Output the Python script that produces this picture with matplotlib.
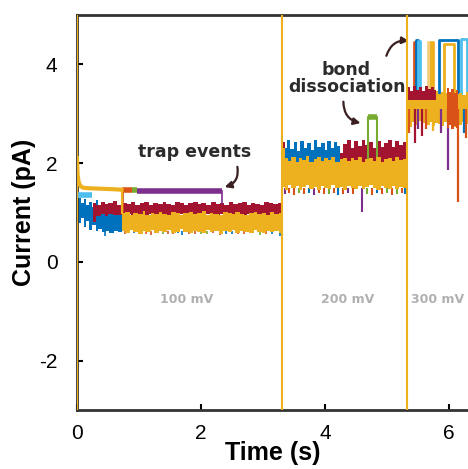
import matplotlib.pyplot as plt

plt.rcParams["axes.unicode_minus"] = False

# MATLAB-style trace colours
BLUE = "#0072BD"
ORANGE = "#D95319"
YELLOW = "#EDB120"
LYELLOW = "#F6CF7E"
PURPLE = "#7E2F8E"
GREEN = "#77AC30"
LBLUE = "#4DBEEE"
RED = "#A2142F"

# voltage steps (s)
steps = [0.0, 3.31, 5.32]
step_labels = ["100 mV", "200 mV", "300 mV"]
step_label_t = [1.77, 4.37, 5.82]

# ---- 100 mV ----
y_init_t = [0.0, 0.01, 0.03, 0.06, 0.1, 0.2, 0.4, 0.6, 0.72]
y_init_v = [2.1, 1.75, 1.6, 1.53, 1.5, 1.49, 1.48, 1.47, 1.46]

y1_t = [0.72, 0.77, 0.85, 0.9, 0.98, 1.06, 1.1, 1.19, 1.25, 1.33, 1.37, 1.46, 1.52,
        1.6, 1.67, 1.71, 1.8, 1.88, 1.93, 2.01, 2.08, 2.15, 2.2, 2.29, 2.35, 2.43,
        2.5, 2.55, 2.63, 2.7, 2.77, 2.85, 2.9, 2.98, 3.05, 3.12, 3.18, 3.26, 3.31]
y1_hi = [0.98, 1.01, 0.95, 0.99, 0.97, 1.02, 0.94, 0.99, 0.96, 1.0, 0.97, 0.95, 1.01,
         0.98, 0.94, 0.99, 1.0, 0.96, 0.98, 1.02, 0.95, 0.99, 0.97, 0.94, 1.0, 0.98,
         0.96, 1.01, 0.97, 0.95, 0.99, 1.0, 0.96, 0.98, 0.94, 1.0, 0.97, 0.99, 0.97]
y1_lo = [0.63, 0.59, 0.64, 0.61, 0.57, 0.63, 0.6, 0.65, 0.58, 0.62, 0.6, 0.64, 0.59,
         0.61, 0.66, 0.6, 0.58, 0.63, 0.61, 0.59, 0.64, 0.6, 0.62, 0.57, 0.63, 0.61,
         0.65, 0.59, 0.62, 0.6, 0.58, 0.64, 0.61, 0.59, 0.63, 0.6, 0.62, 0.58, 0.6]

b1_t = [0.02, 0.06, 0.11, 0.15, 0.2, 0.24, 0.3, 0.34, 0.41, 0.47, 0.52, 0.6, 0.66, 0.72]
b1_hi = [1.3, 1.2, 1.27, 1.15, 1.22, 1.12, 1.25, 1.1, 1.15, 1.08, 1.12, 1.1, 1.14, 1.1]
b1_lo = [0.78, 0.88, 0.7, 0.82, 0.65, 0.75, 0.62, 0.66, 0.6, 0.63, 0.59, 0.62, 0.6, 0.62]

r1_t = [0.26, 0.31, 0.38, 0.45, 0.5, 0.58, 0.64, 0.72, 0.8, 0.87, 0.93, 1.02, 1.08,
        1.16, 1.22, 1.3, 1.38, 1.43, 1.51, 1.58, 1.66, 1.72, 1.79, 1.87, 1.95, 2.0,
        2.09, 2.16, 2.24, 2.3, 2.38, 2.45, 2.52, 2.6, 2.66, 2.74, 2.81, 2.88, 2.95,
        3.02, 3.1, 3.16, 3.24, 3.31]
r1_hi = [1.2, 1.16, 1.22, 1.17, 1.19, 1.23, 1.15, 1.2, 1.18, 1.22, 1.16, 1.19, 1.21,
         1.15, 1.2, 1.17, 1.22, 1.18, 1.16, 1.21, 1.19, 1.15, 1.2, 1.22, 1.17, 1.19,
         1.16, 1.21, 1.18, 1.2, 1.15, 1.22, 1.17, 1.19, 1.21, 1.16, 1.2, 1.18, 1.15,
         1.21, 1.19, 1.17, 1.2, 1.18]
r1_lo = [0.8, 0.93, 0.96, 0.92, 0.97, 0.94, 0.95, 0.92, 0.96, 0.93, 0.97, 0.94, 0.92,
         0.96, 0.95, 0.93, 0.97, 0.92, 0.95, 0.94, 0.96, 0.93, 0.92, 0.97, 0.95, 0.93,
         0.96, 0.94, 0.92, 0.97, 0.95, 0.93, 0.96, 0.92, 0.94, 0.97, 0.95, 0.93, 0.96,
         0.92, 0.95, 0.94, 0.97, 0.93]

trap_t0 = [0.0, 0.72, 0.89, 0.97]
trap_t1 = [0.25, 0.89, 0.97, 2.34]
trap_v = [1.36, 1.45, 1.45, 1.43]
trap_c = [LBLUE, ORANGE, GREEN, PURPLE]

specks1_t = [0.45, 0.78, 0.92, 1.02, 1.12, 1.2, 1.3, 1.38, 1.47, 1.55, 1.63, 1.7,
             1.8, 1.9, 2.0, 2.1, 2.2, 2.3, 2.4, 2.5, 2.6, 2.7, 2.82, 2.95, 3.05, 3.15, 3.28]
specks1_v = [0.52, 0.56, 0.58, 0.57, 0.56, 0.55, 0.58, 0.57, 0.56, 0.56, 0.58, 0.55,
             0.57, 0.57, 0.56, 0.56, 0.58, 0.55, 0.57, 0.57, 0.56, 0.56, 0.58, 0.55, 0.57,
             0.57, 0.53]
specks1_c = [BLUE, ORANGE, BLUE, GREEN, ORANGE, ORANGE, GREEN, GREEN, ORANGE, ORANGE,
             BLUE, BLUE, ORANGE, ORANGE, GREEN, GREEN, ORANGE, ORANGE, BLUE, BLUE, ORANGE,
             ORANGE, GREEN, GREEN, ORANGE, BLUE, BLUE]

# ---- 200 mV ----
t2 = [3.31, 3.35, 3.41, 3.46, 3.53, 3.58, 3.63, 3.7, 3.75, 3.82, 3.87, 3.93, 3.99,
      4.05, 4.1, 4.17, 4.24, 4.29, 4.35, 4.42, 4.47, 4.53, 4.6, 4.65, 4.72, 4.78,
      4.83, 4.9, 4.96, 5.02, 5.08, 5.13, 5.2, 5.26, 5.32]
y2_hi = [2.3, 2.1, 2.05, 2.13, 2.02, 2.1, 2.07, 2.14, 2.03, 2.09, 2.12, 2.04, 2.1,
         2.06, 2.13, 2.02, 2.08, 2.11, 2.04, 2.1, 2.07, 2.13, 2.03, 2.09, 2.11, 2.05,
         2.12, 2.03, 2.08, 2.1, 2.04, 2.12, 2.06, 2.09, 2.07]
y2_lo = [1.52, 1.46, 1.55, 1.49, 1.53, 1.45, 1.51, 1.56, 1.48, 1.52, 1.46, 1.54, 1.5,
         1.47, 1.55, 1.49, 1.52, 1.46, 1.53, 1.5, 1.48, 1.54, 1.47, 1.51, 1.55, 1.49,
         1.46, 1.53, 1.5, 1.48, 1.54, 1.47, 1.52, 1.49, 1.5]
r2_hi = [2.42, 2.3, 2.2, 2.25, 2.2, 2.22, 2.2, 2.25, 2.2, 2.22, 2.2, 2.25, 2.2,
         2.22, 2.2, 2.25, 2.2, 2.38, 2.46, 2.3, 2.44, 2.34, 2.47, 2.36, 2.42, 2.3,
         2.45, 2.33, 2.41, 2.47, 2.32, 2.44, 2.36, 2.43, 2.38]
r2_lo = 1.95
b2_t = [3.35, 3.39, 3.44, 3.5, 3.55, 3.6, 3.66, 3.71, 3.77, 3.83, 3.88, 3.94, 4.0,
        4.04, 4.1, 4.15, 4.2, 4.24]
b2_hi = [2.3, 2.46, 2.28, 2.42, 2.25, 2.45, 2.3, 2.4, 2.27, 2.47, 2.32, 2.41, 2.26,
         2.44, 2.3, 2.43, 2.35, 2.38]
b2_lo = 2.0

specks2_t = [3.35, 3.42, 3.5, 3.58, 3.66, 3.74, 3.82, 3.9, 3.98, 4.06, 4.14, 4.22, 4.3,
             4.38, 4.46, 4.6, 4.68, 4.76, 4.84, 4.92, 5.0, 5.08, 5.16, 5.24, 5.3]
specks2_v = [1.38, 1.4, 1.35, 1.4, 1.37, 1.39, 1.36, 1.4, 1.38, 1.37, 1.39, 1.36, 1.38,
             1.4, 1.37, 1.0, 1.38, 1.36, 1.4, 1.37, 1.39, 1.36, 1.38, 1.4, 1.37]
specks2_c = [PURPLE, ORANGE, ORANGE, GREEN, ORANGE, BLUE, PURPLE, ORANGE, ORANGE, GREEN,
             ORANGE, BLUE, ORANGE, PURPLE, ORANGE, PURPLE, GREEN, ORANGE, BLUE, ORANGE,
             GREEN, ORANGE, GREEN, ORANGE, BLUE]

# bond dissociation event (green)
diss_t = [4.69, 4.69, 4.84, 4.84]
diss_v = [2.1, 2.94, 2.94, 2.1]

# ---- 300 mV ----
t3 = [5.32, 5.36, 5.41, 5.45, 5.5, 5.55, 5.59, 5.64, 5.69, 5.74, 5.78, 5.83, 5.88,
      5.93, 5.97, 6.02, 6.07, 6.12, 6.17, 6.22, 6.27, 6.31]
y3_hi = [3.5, 3.4, 3.46, 3.38, 3.44, 3.36, 3.47, 3.4, 3.43, 3.37, 3.46, 3.39, 3.45,
         3.41, 3.44, 3.38, 3.46, 3.4, 3.43, 3.37, 3.45, 3.4]
y3_lo = [2.8, 2.74, 2.83, 2.77, 2.85, 2.75, 2.81, 2.78, 2.84, 2.76, 2.82, 2.79, 2.75,
         2.83, 2.78, 2.8, 2.74, 2.82, 2.77, 2.84, 2.79, 2.8]
r3_t = [5.34, 5.38, 5.43, 5.47, 5.52, 5.57, 5.62, 5.66, 5.71, 5.76, 5.8]
r3_hi = [3.55, 3.47, 3.57, 3.49, 3.54, 3.46, 3.56, 3.5, 3.55, 3.48, 3.52]
r3_lo = 3.27
o3_t = [5.97, 6.0, 6.04, 6.09, 6.12, 6.15]
o3_hi = [3.52, 3.45, 3.5, 3.42, 3.48, 3.46]
o3_lo = [2.72, 2.78, 2.7, 2.76, 2.72, 2.75]

up_t0 = [5.44, 5.47, 5.51, 5.66, 5.72, 5.85, 5.92, 6.2]
up_t1 = [5.46, 5.5, 5.53, 5.7, 5.74, 6.15, 6.08, 6.3]
up_v = [4.45, 4.5, 4.47, 4.45, 4.45, 4.5, 4.42, 4.52]
up_c = [ORANGE, BLUE, LBLUE, LYELLOW, YELLOW, BLUE, YELLOW, LBLUE]

down3_t = [5.36, 5.46, 5.5, 5.56, 5.64, 5.75, 5.87, 5.99, 6.02, 6.15, 6.24, 6.28]
down3_v = [2.6, 2.4, 2.7, 2.55, 2.7, 2.65, 2.6, 1.85, 2.9, 1.21, 2.6, 2.5]
down3_c = [ORANGE, RED, PURPLE, RED, ORANGE, YELLOW, PURPLE, PURPLE, BLUE, ORANGE, BLUE, ORANGE]

fig = plt.figure(figsize=(4.68, 4.69), dpi=100)
ax = fig.add_axes([0.1645, 0.126, 0.8355, 0.842])


def band(t, lo, hi, c, z=2):
    ax.fill_between(t, lo, hi, step="post", color=c, lw=0, zorder=z)


# 100 mV traces
band(b1_t, b1_lo, b1_hi, BLUE)
band(r1_t, r1_lo, r1_hi, RED, 3)
for t0, t1, v, c in zip(trap_t0, trap_t1, trap_v, trap_c):
    ax.plot([t0, t1], [v, v], color=c, lw=4, zorder=3, solid_capstyle="butt")
ax.plot([2.34, 2.34], [1.43, 1.2], color=PURPLE, lw=1.2, zorder=3)
ax.plot([0.74, 0.74], [1.45, 1.0], color=ORANGE, lw=1.2, zorder=3)
ax.plot(y_init_t, y_init_v, color=YELLOW, lw=3, zorder=4)
ax.plot([0.72, 0.72], [1.46, 0.98], color=YELLOW, lw=1.5, zorder=4)
band(y1_t, y1_lo, y1_hi, YELLOW, 4)
ax.vlines(specks1_t, 0.63, specks1_v, colors=specks1_c, lw=1.2, zorder=3)

# 200 mV traces
band(t2, r2_lo, r2_hi, RED)
band(b2_t, b2_lo, b2_hi, BLUE, 3)
ax.plot(diss_t, diss_v, color=GREEN, lw=1.5, zorder=2)
ax.plot(diss_t[1:3], diss_v[1:3], color=GREEN, lw=4, zorder=2, solid_capstyle="butt")
band(t2, y2_lo, y2_hi, YELLOW, 4)
ax.vlines(specks2_t, 1.5, specks2_v, colors=specks2_c, lw=1.5, zorder=3)

# 300 mV traces
for t0, t1, v, c in zip(up_t0, up_t1, up_v, up_c):
    ax.plot([t0, t0, t1, t1], [3.4, v, v, 3.4], color=c, lw=2, zorder=2)
band(t3, y3_lo, y3_hi, YELLOW, 3)
band(r3_t, r3_lo, r3_hi, RED, 4)
band(o3_t, o3_lo, o3_hi, ORANGE, 4)
ax.vlines(down3_t, 3.1, down3_v, colors=down3_c, lw=1.6, zorder=3)

# voltage step markers
for s in steps:
    ax.axvline(s, color=YELLOW, lw=1.5, zorder=5)
for lab, t in zip(step_labels, step_label_t):
    ax.text(t, -0.77, lab, color="#b0b0b0", fontsize=9, fontweight="bold",
            ha="center", va="center")

# annotations
ann = dict(fontsize=12.5, fontweight="bold", color="#2b2b2b", ha="center", va="center")
ax.text(1.9, 2.22, "trap events", **ann)
ax.annotate("", xy=(2.34, 1.5), xytext=(2.58, 1.98),
            arrowprops=dict(arrowstyle="-|>", color="#3a2020", lw=1.6,
                            connectionstyle="arc3,rad=-0.5", mutation_scale=10))
ax.text(4.35, 3.72, "bond\ndissociation", linespacing=0.95, **ann)
ax.annotate("", xy=(4.62, 2.8), xytext=(4.3, 3.3),
            arrowprops=dict(arrowstyle="-|>", color="#3a2020", lw=1.6,
                            connectionstyle="arc3,rad=0.45", mutation_scale=10))
ax.annotate("", xy=(5.4, 4.47), xytext=(4.98, 4.12),
            arrowprops=dict(arrowstyle="-|>", color="#3a2020", lw=1.6,
                            connectionstyle="arc3,rad=-0.45", mutation_scale=10))

ax.set_xlim(0, 6.31)
ax.set_ylim(-3, 5)
ax.set_xticks([0, 2, 4, 6])
ax.set_yticks([-2, 0, 2, 4])
ax.tick_params(direction="in", length=4, width=1.5, labelsize=15, pad=10)
ax.tick_params(axis="y", pad=14)
for side in ["left", "bottom", "top"]:
    ax.spines[side].set_linewidth(2)
    ax.spines[side].set_color("#333333")
ax.spines["right"].set_visible(False)

ax.set_xlabel("Time (s)", fontsize=18, fontweight="bold", labelpad=-1)
ax.set_ylabel("Current (pA)", fontsize=18, fontweight="bold", labelpad=2)

for lab in ax.get_xticklabels() + ax.get_yticklabels():
    lab.set_family("Liberation Sans")
ax.xaxis.label.set_family("Liberation Sans")
ax.yaxis.label.set_family("Liberation Sans")

fig.savefig("out.png", dpi=100)
